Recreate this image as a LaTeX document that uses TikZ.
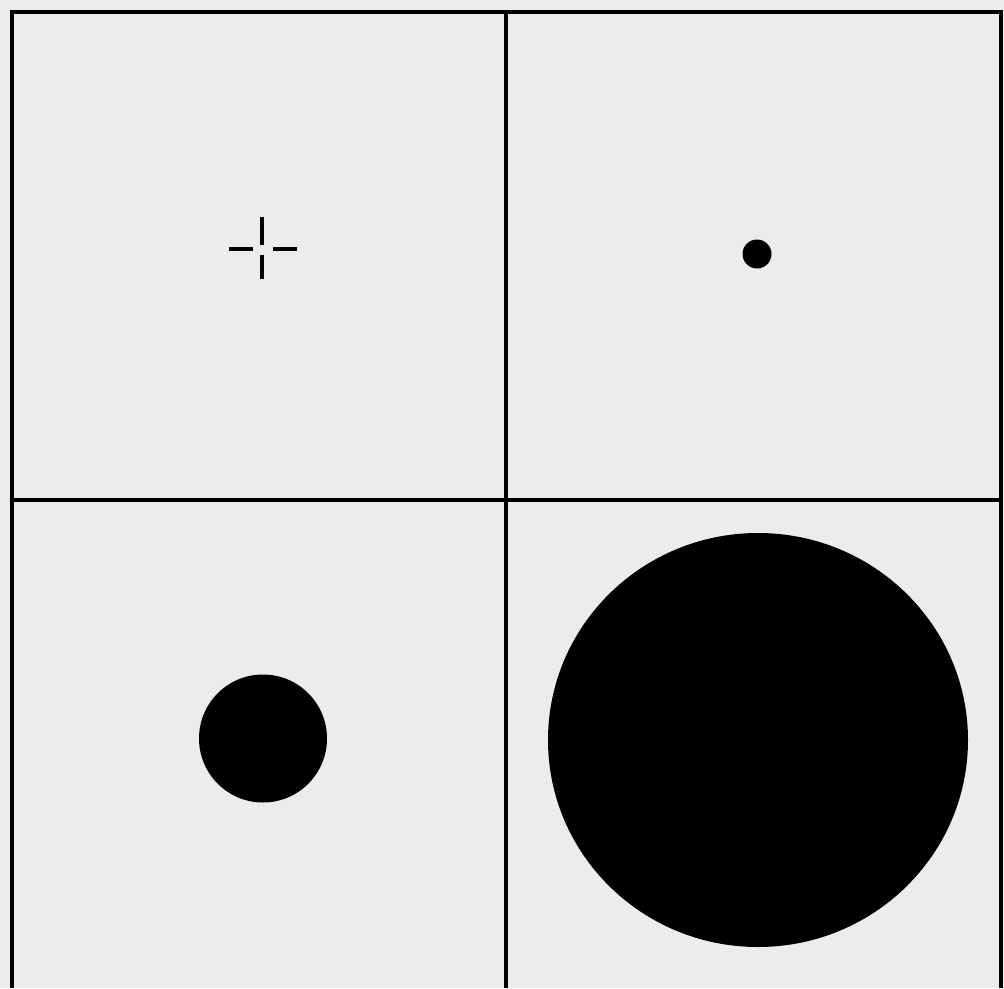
\documentclass[tikz,border=0pt]{standalone}
\definecolor{paper}{RGB}{236,236,236}
\tikzset{
  gridline/.style={line width=4.2pt, black},
  crossarm/.style={line width=3.4pt, black},
  blob/.style={fill=black, draw=none}
}
\begin{document}
\begin{tikzpicture}[x=1pt,y=-1pt]
\useasboundingbox (0,0) rectangle (1004,988);
\fill[paper] (0,0) rectangle (1004,988);
% frame and dividers
\draw[gridline] (12,988) -- (12,12) -- (1001,12) -- (1001,988);
\draw[gridline] (506,12) -- (506,988);
\draw[gridline] (12,500) -- (1001,500);
% cross (top left)
\draw[crossarm] (262,217) -- (262,245);
\draw[crossarm] (262,255) -- (262,279);
\draw[crossarm] (229,249) -- (253,249);
\draw[crossarm] (273,249) -- (297,249);
% small dot (top right)
\fill[blob] (757,254) circle (14.5);
% medium disc (bottom left)
\fill[blob] (263,738.5) circle (64);
% large disc (bottom right)
\fill[blob] (758,740) ellipse (210 and 207);
\end{tikzpicture}
\end{document}
